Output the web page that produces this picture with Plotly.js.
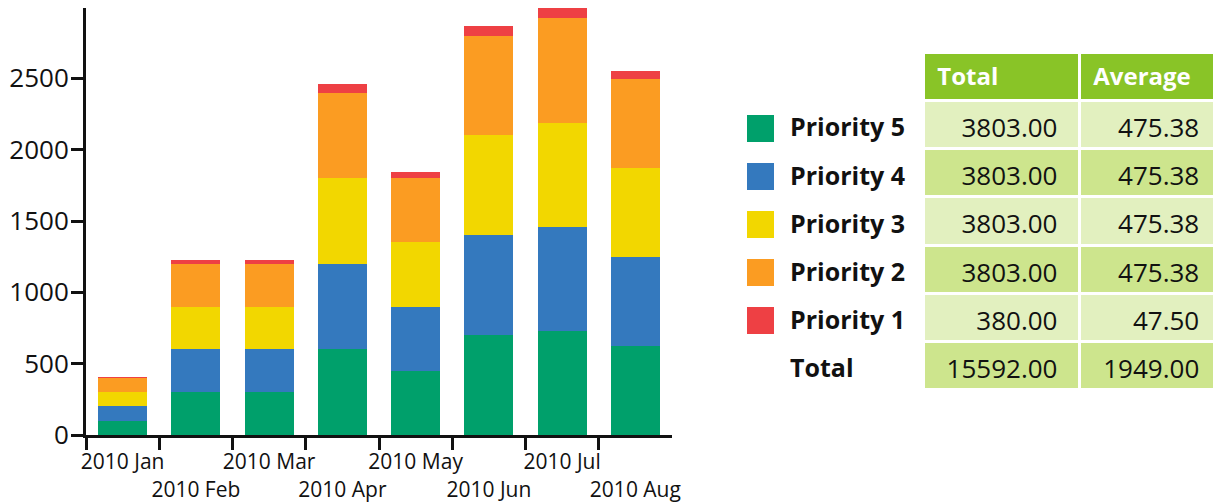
<!DOCTYPE html>
<html>
<head>
<meta charset="utf-8">
<script src="https://cdn.plot.ly/plotly-3.0.1.min.js"></script>
<style>html,body{margin:0;padding:0;background:#fff;}#chart{width:1214px;height:504px;}</style>
</head>
<body>
<div id="chart"></div>
<script>
const months = ["2010 Jan","2010 Feb","2010 Mar","2010 Apr","2010 May","2010 Jun","2010 Jul","2010 Aug"];
const priority5 = [100,300,300,600,450,700,730,623];
const priority4 = [100,300,300,600,450,700,730,623];
const priority3 = [100,300,300,600,450,700,730,623];
const priority2 = [100,300,300,600,450,700,730,623];
const priority1 = [10,30,30,60,45,70,73,62];
const seriesNames = ["Priority 5","Priority 4","Priority 3","Priority 2","Priority 1"];
const seriesColors = ["#00a06b","#3479be","#f2d700","#fb9c22","#ee4044"];
const yTicks = [0,500,1000,1500,2000,2500];
const headers = ["Total","Average"];
const totalLabel = "Total";

const FONT = "Open Sans";
const W = 1214, H = 504;
const M = {l:86, r:0, t:8, b:69};
const PW = W - M.l - M.r, PH = H - M.t - M.b;
const px = x => (x - M.l) / PW;
const py = y => 1 - (y - M.t) / PH;

const seriesData = [priority5, priority4, priority3, priority2, priority1];
const traces = seriesData.map((vals, i) => ({
  type: "bar", x: months, y: vals, name: seriesNames[i],
  marker: {color: seriesColors[i], line: {width: 0}},
  showlegend: false, hoverinfo: "none"
}));

const totals = seriesData.map(v => v.reduce((a,b)=>a+b,0));
const grand = totals.reduce((a,b)=>a+b,0);
const NB = "\u00a0";
const colLabels = seriesNames.map(n => n.replace(" ", NB)).concat([totalLabel]);
const colTotal = totals.concat([grand]).map(t => t.toFixed(2) + NB + NB);
const colAvg = totals.concat([grand]).map(t => (t/months.length).toFixed(2) + NB);
const light = "#e2f0bf", dark = "#cde58d", headGreen = "#89c427";
const rowFill = colLabels.map((_, i) => i % 2 === 0 ? light : dark);
const ROW = 48.14;
const tableTop = 52.5;
const tableX = [px(782), 1];
const colW = [141, 156, 135];

// table A: cell fills and header fill
traces.push({
  type: "table",
  domain: {x: tableX, y: [0, py(tableTop)]},
  columnwidth: colW,
  header: {
    values: ["", "", ""],
    height: ROW,
    fill: {color: ["#ffffff", headGreen, headGreen]},
    line: {color: "#ffffff", width: 3},
    font: {family: FONT, size: 12, color: "#ffffff"}
  },
  cells: {
    values: [colLabels.map(()=>""), colLabels.map(()=>""), colLabels.map(()=>"")],
    height: ROW,
    fill: {color: [colLabels.map(()=>"#ffffff"), rowFill, rowFill]},
    line: {color: "#ffffff", width: 3},
    font: {family: FONT, size: 12, color: "#111111"}
  }
});

// table B: the texts (transparent cells), nudged down to centre the text in each row
traces.push({
  type: "table",
  domain: {x: tableX, y: [0, py(tableTop + 6)]},
  columnwidth: colW,
  header: {
    values: ["", NB + headers[0], NB + headers[1]],
    align: ["left","left","left"],
    height: ROW + 3,
    fill: {color: "rgba(0,0,0,0)"},
    line: {color: "rgba(0,0,0,0)", width: 0},
    font: {family: FONT, size: 24, color: "#ffffff", weight: "bold"}
  },
  cells: {
    values: [colLabels, colTotal, colAvg],
    align: ["left","right","right"],
    height: ROW,
    fill: {color: "rgba(0,0,0,0)"},
    line: {color: "rgba(0,0,0,0)", width: 0},
    font: {family: FONT, size: [25, 26, 26], color: "#111111", weight: ["bold","normal","normal"]}
  }
});

const shapes = seriesColors.map((c, i) => ({
  type: "rect", xref: "paper", yref: "paper",
  x0: px(747), x1: px(774), y0: py(115 + 48*i + 27), y1: py(115 + 48*i),
  fillcolor: c, line: {width: 0}
}));

const layout = {
  width: W, height: H,
  margin: M,
  paper_bgcolor: "#ffffff", plot_bgcolor: "#ffffff",
  barmode: "stack", bargap: 0.33,
  font: {family: FONT, color: "#111111"},
  xaxis: {
    domain: [0, 586/PW],
    type: "category",
    tickson: "boundaries",
    tickvals: months,
    ticktext: months.map((m, i) => i % 2 === 0 ? m : "<br>" + m),
    tickangle: 0,
    ticks: "outside", ticklen: 12, tickwidth: 3, tickcolor: "#111111",
    ticklabelstandoff: 6,
    showline: true, linewidth: 3, linecolor: "#111111",
    showgrid: false, zeroline: false,
    tickfont: {family: FONT, size: 21, color: "#111111"},
    fixedrange: true
  },
  yaxis: {
    range: [0, 2993],
    tickvals: yTicks,
    ticktext: yTicks.map(String),
    ticks: "outside", ticklen: 12, tickwidth: 3, tickcolor: "#111111",
    ticklabelstandoff: -3,
    showline: true, linewidth: 3, linecolor: "#111111",
    showgrid: false, zeroline: false,
    tickfont: {family: FONT, size: 26, color: "#111111"},
    fixedrange: true
  },
  shapes: shapes,
  showlegend: false
};

Plotly.newPlot("chart", traces, layout, {displayModeBar: false, staticPlot: true});
</script>
</body>
</html>
